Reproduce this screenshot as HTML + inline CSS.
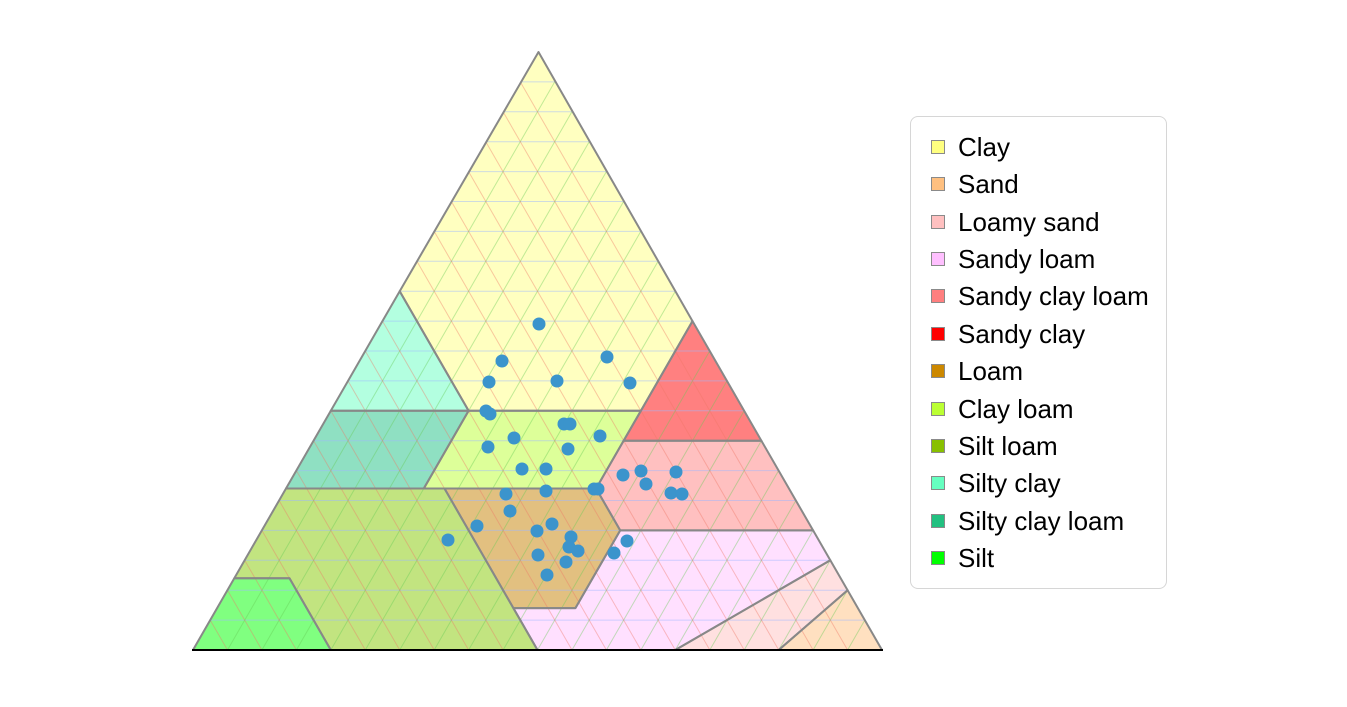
<!DOCTYPE html>
<html><head><meta charset="utf-8"><style>
html,body{margin:0;padding:0;background:#fff;width:1347px;height:707px;overflow:hidden;font-family:"Liberation Sans",sans-serif}
.lg{position:absolute;left:910px;top:116px;width:255px;height:471px;border:1.5px solid #d6d6d6;border-radius:8px;background:#fff}
.it{position:absolute;left:20px;height:24px;font-size:26px;line-height:24px;color:#000}
.it i{position:absolute;left:0;top:5px;width:14px;height:14px;border:1.5px solid #8a8a8a;box-sizing:border-box}
.it span{position:absolute;left:27px;top:0;white-space:nowrap}
</style></head><body>
<svg width="1347" height="707" style="position:absolute;left:0;top:0">
<g stroke="none">
<polygon fill="#ffffc0" points="538.5,52 399.7,291.2 468.6,410.8 640.9,410.8 692.5,321.1"/>
<polygon fill="#b3ffe0" points="399.7,291.2 330.8,410.8 468.6,410.8"/>
<polygon fill="#8fe0c2" points="330.8,410.8 468.6,410.8 423.8,488.5 286,488.5"/>
<polygon fill="#ddff99" points="468.6,410.8 640.9,410.8 596.1,488.5 423.8,488.5"/>
<polygon fill="#ff8080" points="692.5,321.1 761.4,440.7 623.6,440.7 640.9,410.8"/>
<polygon fill="#ffc0c0" points="623.6,440.7 761.4,440.7 813.1,530.4 620.2,530.4 596.1,488.5"/>
<polygon fill="#e2c080" points="444.5,488.5 596.1,488.5 620.2,530.4 575.4,608.1 513.4,608.1"/>
<polygon fill="#c2e480" points="286,488.5 444.5,488.5 513.4,608.1 537.5,650 330.8,650 289.5,578.2 234.3,578.2"/>
<polygon fill="#80ff80" points="234.3,578.2 289.5,578.2 330.8,650 193,650"/>
<polygon fill="#ffe0ff" points="537.5,650 513.4,608.1 575.4,608.1 620.2,530.4 813.1,530.4 830.3,560.3 675.3,650"/>
<polygon fill="#ffe0e0" points="675.3,650 830.3,560.3 847.6,590.2 778.7,650"/>
<polygon fill="#ffe0c0" points="778.7,650 847.6,590.2 882,650"/>
</g>
<g stroke="#9fb8ff" stroke-width="1" opacity="0.5">
<line x1="210.2" y1="620.1" x2="864.8" y2="620.1"/><line x1="227.5" y1="590.2" x2="847.5" y2="590.2"/><line x1="244.7" y1="560.3" x2="830.3" y2="560.3"/><line x1="261.9" y1="530.4" x2="813.1" y2="530.4"/><line x1="279.1" y1="500.5" x2="795.9" y2="500.5"/><line x1="296.4" y1="470.6" x2="778.6" y2="470.6"/><line x1="313.6" y1="440.7" x2="761.4" y2="440.7"/><line x1="330.8" y1="410.8" x2="744.2" y2="410.8"/><line x1="348" y1="380.9" x2="727" y2="380.9"/><line x1="365.3" y1="351" x2="709.7" y2="351"/><line x1="382.5" y1="321.1" x2="692.5" y2="321.1"/><line x1="399.7" y1="291.2" x2="675.3" y2="291.2"/><line x1="416.9" y1="261.3" x2="658.1" y2="261.3"/><line x1="434.2" y1="231.4" x2="640.8" y2="231.4"/><line x1="451.4" y1="201.5" x2="623.6" y2="201.5"/><line x1="468.6" y1="171.6" x2="606.4" y2="171.6"/><line x1="485.8" y1="141.7" x2="589.2" y2="141.7"/><line x1="503.1" y1="111.8" x2="571.9" y2="111.8"/><line x1="520.3" y1="81.9" x2="554.7" y2="81.9"/>
</g>
<g stroke="#66cc55" stroke-width="1" opacity="0.4">
<line x1="227.5" y1="650" x2="554.7" y2="81.9"/><line x1="261.9" y1="650" x2="571.9" y2="111.8"/><line x1="296.4" y1="650" x2="589.2" y2="141.7"/><line x1="330.8" y1="650" x2="606.4" y2="171.6"/><line x1="365.3" y1="650" x2="623.6" y2="201.5"/><line x1="399.7" y1="650" x2="640.8" y2="231.4"/><line x1="434.2" y1="650" x2="658.1" y2="261.3"/><line x1="468.6" y1="650" x2="675.3" y2="291.2"/><line x1="503.1" y1="650" x2="692.5" y2="321.1"/><line x1="537.5" y1="650" x2="709.7" y2="351"/><line x1="572" y1="650" x2="727" y2="380.9"/><line x1="606.4" y1="650" x2="744.2" y2="410.8"/><line x1="640.9" y1="650" x2="761.4" y2="440.7"/><line x1="675.3" y1="650" x2="778.6" y2="470.6"/><line x1="709.8" y1="650" x2="795.9" y2="500.5"/><line x1="744.2" y1="650" x2="813.1" y2="530.4"/><line x1="778.7" y1="650" x2="830.3" y2="560.3"/><line x1="813.1" y1="650" x2="847.5" y2="590.2"/><line x1="847.6" y1="650" x2="864.8" y2="620.1"/>
</g>
<g stroke="#ee7766" stroke-width="1" opacity="0.4">
<line x1="847.6" y1="650" x2="520.3" y2="81.9"/><line x1="813.1" y1="650" x2="503.1" y2="111.8"/><line x1="778.7" y1="650" x2="485.8" y2="141.7"/><line x1="744.2" y1="650" x2="468.6" y2="171.6"/><line x1="709.8" y1="650" x2="451.4" y2="201.5"/><line x1="675.3" y1="650" x2="434.2" y2="231.4"/><line x1="640.9" y1="650" x2="416.9" y2="261.3"/><line x1="606.4" y1="650" x2="399.7" y2="291.2"/><line x1="572" y1="650" x2="382.5" y2="321.1"/><line x1="537.5" y1="650" x2="365.3" y2="351"/><line x1="503.1" y1="650" x2="348" y2="380.9"/><line x1="468.6" y1="650" x2="330.8" y2="410.8"/><line x1="434.2" y1="650" x2="313.6" y2="440.7"/><line x1="399.7" y1="650" x2="296.4" y2="470.6"/><line x1="365.3" y1="650" x2="279.1" y2="500.5"/><line x1="330.8" y1="650" x2="261.9" y2="530.4"/><line x1="296.4" y1="650" x2="244.7" y2="560.3"/><line x1="261.9" y1="650" x2="227.5" y2="590.2"/><line x1="227.5" y1="650" x2="210.2" y2="620.1"/>
</g>
<g fill="none" stroke="#888" stroke-width="2" stroke-linejoin="round">
<polygon points="538.5,52 399.7,291.2 468.6,410.8 640.9,410.8 692.5,321.1"/>
<polygon points="399.7,291.2 330.8,410.8 468.6,410.8"/>
<polygon points="330.8,410.8 468.6,410.8 423.8,488.5 286,488.5"/>
<polygon points="468.6,410.8 640.9,410.8 596.1,488.5 423.8,488.5"/>
<polygon points="692.5,321.1 761.4,440.7 623.6,440.7 640.9,410.8"/>
<polygon points="623.6,440.7 761.4,440.7 813.1,530.4 620.2,530.4 596.1,488.5"/>
<polygon points="444.5,488.5 596.1,488.5 620.2,530.4 575.4,608.1 513.4,608.1"/>
<polygon points="286,488.5 444.5,488.5 513.4,608.1 537.5,650 330.8,650 289.5,578.2 234.3,578.2"/>
<polygon points="234.3,578.2 289.5,578.2 330.8,650 193,650"/>
<polygon points="537.5,650 513.4,608.1 575.4,608.1 620.2,530.4 813.1,530.4 830.3,560.3 675.3,650"/>
<polygon points="675.3,650 830.3,560.3 847.6,590.2 778.7,650"/>
<polygon points="778.7,650 847.6,590.2 882,650"/>
</g>
<line x1="192" y1="650" x2="883" y2="650" stroke="#000" stroke-width="2"/>
<g fill="#3b94cc">
<circle cx="539" cy="324" r="6.5"/><circle cx="502" cy="361" r="6.5"/><circle cx="489" cy="382" r="6.5"/><circle cx="557" cy="381" r="6.5"/><circle cx="607" cy="357" r="6.5"/><circle cx="630" cy="383" r="6.5"/><circle cx="486" cy="411" r="6.5"/><circle cx="490" cy="414" r="6.5"/><circle cx="564" cy="424" r="6.5"/><circle cx="570" cy="424" r="6.5"/><circle cx="600" cy="436" r="6.5"/><circle cx="514" cy="438" r="6.5"/><circle cx="488" cy="447" r="6.5"/><circle cx="568" cy="449" r="6.5"/><circle cx="522" cy="469" r="6.5"/><circle cx="546" cy="469" r="6.5"/><circle cx="623" cy="475" r="6.5"/><circle cx="641" cy="471" r="6.5"/><circle cx="676" cy="472" r="6.5"/><circle cx="646" cy="484" r="6.5"/><circle cx="671" cy="493" r="6.5"/><circle cx="682" cy="494" r="6.5"/><circle cx="594" cy="489" r="6.5"/><circle cx="598" cy="489" r="6.5"/><circle cx="506" cy="494" r="6.5"/><circle cx="546" cy="491" r="6.5"/><circle cx="510" cy="511" r="6.5"/><circle cx="477" cy="526" r="6.5"/><circle cx="552" cy="524" r="6.5"/><circle cx="537" cy="531" r="6.5"/><circle cx="571" cy="537" r="6.5"/><circle cx="627" cy="541" r="6.5"/><circle cx="569" cy="547" r="6.5"/><circle cx="578" cy="551" r="6.5"/><circle cx="538" cy="555" r="6.5"/><circle cx="614" cy="553" r="6.5"/><circle cx="566" cy="562" r="6.5"/><circle cx="547" cy="575" r="6.5"/><circle cx="448" cy="540" r="6.5"/>
</g>
</svg>
<div class="lg">
<div class="it" style="top:18px"><i style="background:#ffff80"></i><span>Clay</span></div>
<div class="it" style="top:55.4px"><i style="background:#ffc080"></i><span>Sand</span></div>
<div class="it" style="top:92.7px"><i style="background:#ffc0c0"></i><span>Loamy sand</span></div>
<div class="it" style="top:130.1px"><i style="background:#ffc0ff"></i><span>Sandy loam</span></div>
<div class="it" style="top:167.4px"><i style="background:#ff7f7f"></i><span>Sandy clay loam</span></div>
<div class="it" style="top:204.8px"><i style="background:#ff0000"></i><span>Sandy clay</span></div>
<div class="it" style="top:242.2px"><i style="background:#cc8800"></i><span>Loam</span></div>
<div class="it" style="top:279.5px"><i style="background:#bbff33"></i><span>Clay loam</span></div>
<div class="it" style="top:316.9px"><i style="background:#88c000"></i><span>Silt loam</span></div>
<div class="it" style="top:354.2px"><i style="background:#66ffc0"></i><span>Silty clay</span></div>
<div class="it" style="top:391.6px"><i style="background:#22c080"></i><span>Silty clay loam</span></div>
<div class="it" style="top:429px"><i style="background:#00ff00"></i><span>Silt</span></div>
</div>
</body></html>
